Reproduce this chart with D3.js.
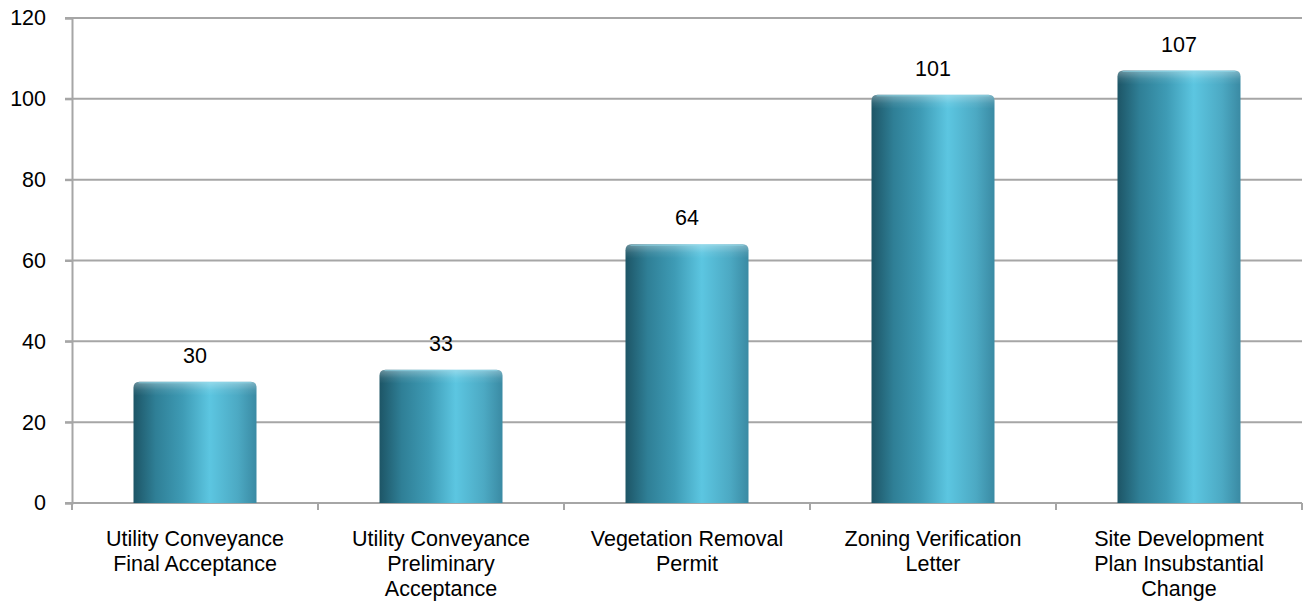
<!DOCTYPE html>
<html>
<head>
<meta charset="utf-8">
<script src="https://cdn.jsdelivr.net/npm/d3@7"></script>
<style>
  body { margin: 0; background: #fff; }
  #viz_container { width: 1309px; height: 615px; }
  text { font-family: "Liberation Sans", Arial, sans-serif; fill: #000; }
</style>
</head>
<body>
<div id="viz_container"></div>
<script>
const categories = [
  ["Utility Conveyance", "Final Acceptance"],
  ["Utility Conveyance", "Preliminary", "Acceptance"],
  ["Vegetation Removal", "Permit"],
  ["Zoning Verification", "Letter"],
  ["Site Development", "Plan Insubstantial", "Change"]
];
const values = [30, 33, 64, 101, 107];
const yTicks = [0, 20, 40, 60, 80, 100, 120];

const width = 1309, height = 615;
const margin = { top: 18, right: 7, bottom: 112, left: 72 };
const fontSize = "21.5px";

const svg = d3.select("#viz_container").append("svg")
  .attr("width", width).attr("height", height);

const defs = svg.append("defs");
const grad = defs.append("linearGradient").attr("id", "barGrad")
  .attr("x1", "0%").attr("x2", "100%").attr("y1", "0%").attr("y2", "0%");
[["0%", "#1d5566"], ["18%", "#2f7f96"], ["40%", "#3e9bb5"], ["62%", "#5cc6e1"], ["85%", "#4ca9c3"], ["100%", "#3a8aa3"]]
  .forEach(([o, c]) => grad.append("stop").attr("offset", o).attr("stop-color", c));

const capGrad = defs.append("linearGradient").attr("id", "capGrad")
  .attr("x1", "0%").attr("x2", "0%").attr("y1", "0%").attr("y2", "100%");
[["0%", "#ffffff", 0.35], ["60%", "#ffffff", 0.08], ["100%", "#ffffff", 0]]
  .forEach(([o, c, op]) => capGrad.append("stop").attr("offset", o).attr("stop-color", c).attr("stop-opacity", op));

const x = d3.scaleBand()
  .domain(d3.range(values.length))
  .range([margin.left, width - margin.right])
  .paddingInner(0.5).paddingOuter(0.25);

const y = d3.scaleLinear().domain([0, 120]).range([height - margin.bottom, margin.top]);

// gridlines
svg.append("g").selectAll("line").data(yTicks.slice(1)).join("line")
  .attr("x1", margin.left - 7).attr("x2", width - margin.right)
  .attr("y1", d => y(d)).attr("y2", d => y(d))
  .attr("stroke", "#a6a6a6").attr("stroke-width", 2);

// y axis
const yAxis = svg.append("g").attr("transform", `translate(${margin.left},0)`)
  .call(d3.axisLeft(y).tickValues(yTicks).tickSize(7).tickPadding(19));
yAxis.select(".domain").attr("stroke", "#a6a6a6").attr("stroke-width", 2);
yAxis.selectAll(".tick line").attr("stroke", "#a6a6a6").attr("stroke-width", 2);
yAxis.selectAll(".tick text").style("font-size", fontSize).attr("fill", "#000");

// x axis line + boundary ticks
const xBase = y(0);
svg.append("line").attr("x1", margin.left - 7).attr("x2", width - margin.right)
  .attr("y1", xBase).attr("y2", xBase).attr("stroke", "#a6a6a6").attr("stroke-width", 2);
const boundaries = d3.range(values.length + 1).map(i => margin.left + i * (width - margin.left - margin.right) / values.length);
svg.append("g").selectAll("line").data(boundaries).join("line")
  .attr("x1", d => d).attr("x2", d => d)
  .attr("y1", xBase).attr("y2", xBase + 7)
  .attr("stroke", "#a6a6a6").attr("stroke-width", 2);

// bars
const r = 6;
function barPath(x0, w, top, bottom) {
  return `M${x0},${bottom} L${x0},${top + r} Q${x0},${top} ${x0 + r},${top} ` +
    `L${x0 + w - r},${top} Q${x0 + w},${top} ${x0 + w},${top + r} L${x0 + w},${bottom} Z`;
}
const bars = svg.append("g");
values.forEach((v, i) => {
  const x0 = x(i), w = x.bandwidth(), top = y(v), bottom = y(0);
  bars.append("path").attr("d", barPath(x0, w, top, bottom)).attr("fill", "url(#barGrad)");
  bars.append("path").attr("d", barPath(x0, w, top, top + 14)).attr("fill", "url(#capGrad)");
  bars.append("line").attr("x1", x0 + 5).attr("x2", x0 + w - 5)
    .attr("y1", top + 1).attr("y2", top + 1)
    .attr("stroke", "#8fd9ea").attr("stroke-opacity", 0.6).attr("stroke-width", 1);
  svg.append("text").attr("x", x0 + w / 2).attr("y", top - 19)
    .attr("text-anchor", "middle").style("font-size", fontSize).text(v);
});

// category labels
categories.forEach((lines, i) => {
  const cx = x(i) + x.bandwidth() / 2;
  const t = svg.append("text").attr("text-anchor", "middle").style("font-size", fontSize)
    .attr("x", cx).attr("y", xBase + 43);
  lines.forEach((l, j) => t.append("tspan").attr("x", cx)
    .attr("dy", j === 0 ? 0 : 25).text(l));
});
</script>
</body>
</html>
